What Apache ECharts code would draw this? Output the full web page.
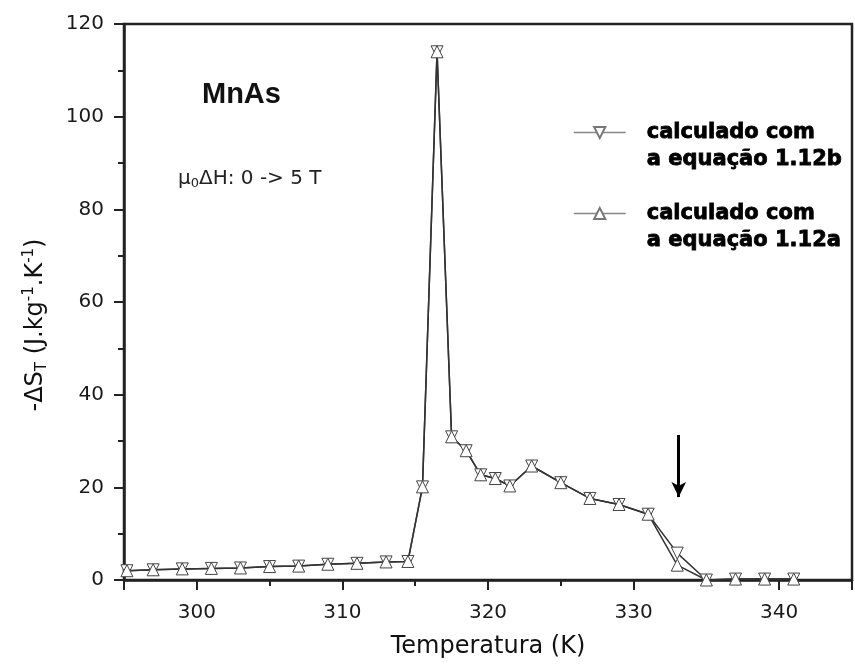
<!DOCTYPE html>
<html>
<head>
<meta charset="utf-8">
<script src="https://cdn.jsdelivr.net/npm/echarts@6/dist/echarts.min.js"></script>
<style>html,body{margin:0;padding:0;background:#fff}#c{width:855px;height:668px}</style>
</head>
<body>
<div id="c"></div>
<script>
// Temperature (K)
const temps = [295.2, 297, 299, 301, 303, 305, 307, 309, 311, 313, 314.5, 315.5, 316.5, 317.5, 318.5, 319.5, 320.5, 321.5, 323, 325, 327, 329, 331, 333, 335, 337, 339, 341];
// -ΔS_T, equation 1.12b (down triangles)
const valuesB = [2.0, 2.2, 2.4, 2.5, 2.6, 2.9, 3.0, 3.4, 3.6, 3.9, 4.0, 20.1, 114.0, 30.9, 27.9, 22.7, 21.9, 20.3, 24.6, 21.0, 17.6, 16.3, 14.2, 5.8, 0.0, 0.2, 0.2, 0.2];
// -ΔS_T, equation 1.12a (up triangles)
const valuesA = [2.0, 2.2, 2.4, 2.5, 2.6, 2.9, 3.0, 3.4, 3.6, 3.9, 4.0, 20.1, 114.0, 30.9, 27.9, 22.7, 21.9, 20.3, 24.6, 21.0, 17.6, 16.3, 14.2, 3.2, 0.0, 0.2, 0.2, 0.2];
const nameB = 'calculado com\na equação 1.12b';
const nameA = 'calculado com\na equação 1.12a';
const xTickLabels = [300, 310, 320, 330, 340];
const yTickLabels = [0, 20, 40, 60, 80, 100, 120];
const arrowX = 333.1;
const arrowY = [31.3, 17.9];

const chart = echarts.init(document.getElementById('c'), null, {renderer: 'canvas'});
const axisColor = '#222';
const font = 'DejaVu Sans';

function mkSeries(name, vals, rotate) {
  return {
    name: name,
    type: 'line',
    data: temps.map((t, i) => [t, vals[i]]),
    symbol: 'triangle',
    symbolRotate: rotate,
    symbolSize: 12,
    showAllSymbol: true,
    itemStyle: {color: '#fff', borderColor: '#444', borderWidth: 1},
    lineStyle: {color: '#333', width: 1.5},
    emphasis: {disabled: true},
    z: 3
  };
}

const sB = mkSeries(nameB, valuesB, 180);
sB.markLine = {
  silent: true,
  symbol: ['none', 'arrow'],
  symbolSize: [11, 15],
  lineStyle: {color: '#000', width: 3, type: 'solid'},
  label: {show: false},
  data: [[{coord: [arrowX, arrowY[0]]}, {coord: [arrowX, arrowY[1]]}]]
};
const sA = mkSeries(nameA, valuesA, 0);

chart.setOption({
  animation: false,
  backgroundColor: '#fff',
  grid: {left: 124, right: 2, top: 24, bottom: 88, show: true, borderColor: axisColor, borderWidth: 2.5},
  xAxis: {
    type: 'value', min: 295, max: 345, splitNumber: 5,
    axisLine: {lineStyle: {color: axisColor, width: 2.5}},
    axisTick: {length: 10, lineStyle: {color: axisColor, width: 2}},
    minorTick: {show: true, splitNumber: 2, length: 6, lineStyle: {color: axisColor, width: 2}},
    splitLine: {show: false},
    axisLabel: {
      margin: 23, fontSize: 20, fontFamily: font, color: '#1a1a1a',
      formatter: v => xTickLabels.indexOf(Math.round(v)) >= 0 && Math.abs(v - Math.round(v)) < 1e-6 ? String(Math.round(v)) : ''
    },
    name: 'Temperatura (K)', nameLocation: 'middle', nameGap: 55,
    nameTextStyle: {fontSize: 24, fontFamily: font, color: '#111'}
  },
  yAxis: {
    type: 'value', min: 0, max: 120, interval: 20,
    axisLine: {show: true, lineStyle: {color: axisColor, width: 2.5}},
    axisTick: {show: true, length: 10, lineStyle: {color: axisColor, width: 2}},
    minorTick: {show: true, splitNumber: 2, length: 6, lineStyle: {color: axisColor, width: 2}},
    splitLine: {show: false},
    axisLabel: {
      margin: 20, fontSize: 20, fontFamily: font, color: '#1a1a1a',
      formatter: v => yTickLabels.indexOf(v) >= 0 ? String(v) : ''
    },
    name: '-ΔS{sub|T} (J.kg{sup|-1}.K{sup|-1})', nameLocation: 'middle', nameGap: 74,
    nameTextStyle: {
      fontSize: 24, fontFamily: font, color: '#111', padding: [0, 46, 0, 0],
      rich: {
        sub: {fontSize: 15, fontFamily: font, color: '#111', verticalAlign: 'bottom', padding: [13, 0, 0, 0]},
        sup: {fontSize: 15, fontFamily: font, color: '#111', verticalAlign: 'top', padding: [0, 0, 11, 0]}
      }
    }
  },
  legend: {
    orient: 'vertical', left: 573, top: 92, padding: 0, itemGap: 0,
    itemWidth: 52, itemHeight: 14,
    data: [nameB, nameA],
    formatter: name => '\n' + name,
    lineStyle: {color: '#888', width: 1.5},
    itemStyle: {borderColor: '#777'},
    textStyle: {fontFamily: font, fontWeight: 'bold', fontSize: 21, lineHeight: 27, color: '#000',
      textBorderColor: '#000', textBorderWidth: 0.8, padding: [0, 0, 0, 16]}
  },
  graphic: [
    {type: 'text', left: 202, top: 80, style: {text: 'MnAs', font: 'bold 29px "Liberation Sans"', fill: '#111'}},
    {type: 'text', left: 178, top: 169, style: {
      text: 'μ{sub|0}ΔH: 0 -> 5 T', font: '20px "DejaVu Sans"', fill: '#222',
      rich: {sub: {fontSize: 13, fontFamily: font, fill: '#222', verticalAlign: 'bottom', padding: [10, 0, 0, 0]}}
    }}
  ],
  series: [sB, sA]
});
</script>
</body>
</html>
